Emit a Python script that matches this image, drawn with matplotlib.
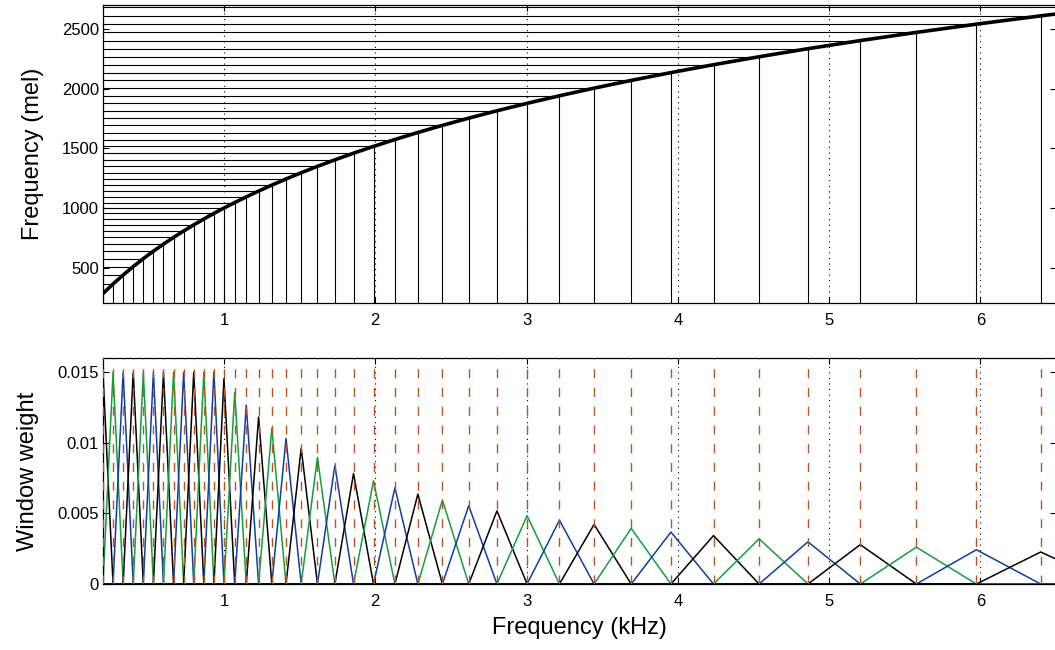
import matplotlib
matplotlib.use('Agg')
import matplotlib.pyplot as plt

plt.rcParams['font.family'] = ['Liberation Sans', 'DejaVu Sans']

# filter edge / centre frequencies (Hz): 13 linear, then log spaced
freqs_hz = [133.33, 200.00, 266.67, 333.33, 400.00, 466.67, 533.33, 600.00,
            666.67, 733.33, 800.00, 866.67, 933.33, 999.76, 1070.91, 1147.13,
            1228.77, 1316.22, 1409.90, 1510.24, 1617.73, 1732.86, 1856.19,
            1988.30, 2129.81, 2281.39, 2443.76, 2617.68, 2803.98, 3003.54,
            3217.30, 3446.28, 3691.55, 3954.28, 4235.71, 4537.17, 4860.08,
            5205.97, 5576.48, 5973.36, 6398.49, 6853.87]
# same frequencies on the mel scale
mels = [196.5, 283.2, 363.8, 438.9, 509.4, 575.7, 638.3, 697.7, 754.0, 807.7,
        858.9, 907.9, 954.9, 999.8, 1046.0, 1093.5, 1142.3, 1192.2, 1243.4,
        1295.8, 1349.3, 1403.9, 1459.7, 1516.5, 1574.3, 1633.1, 1692.9,
        1753.5, 1815.1, 1877.5, 1940.8, 2004.8, 2069.6, 2135.0, 2201.2,
        2268.0, 2335.5, 2403.5, 2472.0, 2541.1, 2610.7, 2680.8]
# peak weight of each of the 40 triangular windows
peaks = [0.015, 0.015, 0.015, 0.015, 0.015, 0.015, 0.015, 0.015, 0.015,
         0.015, 0.015, 0.01503, 0.01454, 0.01357, 0.01267, 0.01183, 0.01104,
         0.01031, 0.00962, 0.00898, 0.00839, 0.00783, 0.00731, 0.00682,
         0.00637, 0.00595, 0.00555, 0.00518, 0.00484, 0.00452, 0.00422,
         0.00394, 0.00368, 0.00343, 0.00320, 0.00299, 0.00279, 0.00261,
         0.00243, 0.00227]
win_colors = ['#000000', '#12a03c', '#0c3ea6']
mel_ticks = [500, 1000, 1500, 2000, 2500]
khz_ticks = [1, 2, 3, 4, 5, 6]
weight_ticks = [0, 0.005, 0.01, 0.015]
weight_labels = ['0', '0.005', '0.01', '0.015']

f = [x / 1000.0 for x in freqs_hz]

fig = plt.figure(figsize=(10.55, 6.5), dpi=100)
ax1 = fig.add_axes([0.0976, 0.534, 0.9034, 0.458])
ax2 = fig.add_axes([0.0976, 0.1015, 0.9034, 0.3475])

# top: mel curve with lines from the axes to the curve
ax1.hlines(mels, f[0], f, colors='k', lw=0.8)
ax1.vlines(f, mels[0], mels, colors='k', lw=0.8)
ax1.plot(f, mels, color='k', lw=2.6, solid_capstyle='butt')
ax1.set_xlim(0.2, 6.5)
ax1.set_ylim(205, 2700)
ax1.set_yticks(mel_ticks)
ax1.set_xticks(khz_ticks)
ax1.set_ylabel('Frequency (mel)', fontsize=17, labelpad=13)

# bottom: triangular windows
for i in range(40):
    xs = [f[0], f[i], f[i + 1], f[i + 2], f[-1]]
    ys = [0, 0, peaks[i], 0, 0]
    ax2.plot(xs, ys, color=win_colors[i % 3], lw=1.1)
for c in f[1:41]:
    ax2.axvline(c, color='#b8561f', lw=1.0, dashes=(6.5, 7.0), zorder=3)
ax2.set_xlim(0.2, 6.5)
ax2.set_ylim(0, 0.016)
ax2.set_xticks(khz_ticks)
ax2.set_yticks(weight_ticks)
ax2.set_yticklabels(weight_labels)
ax2.set_ylabel('Window weight', fontsize=17, labelpad=13)
ax2.set_xlabel('Frequency (kHz)', fontsize=17, labelpad=6)

for ax in (ax1, ax2):
    ax.xaxis.grid(True, linestyle=(0, (1, 4)), color='k', lw=0.8)
    ax.set_axisbelow(True)
    ax.tick_params(direction='in', top=True, right=True, length=4,
                   width=0.8, labelsize=12)
    ax.tick_params(axis='x', pad=7)
    ax.tick_params(axis='y', pad=3)
    for s in ax.spines.values():
        s.set_linewidth(0.9)

fig.savefig('out.png', dpi=100)
